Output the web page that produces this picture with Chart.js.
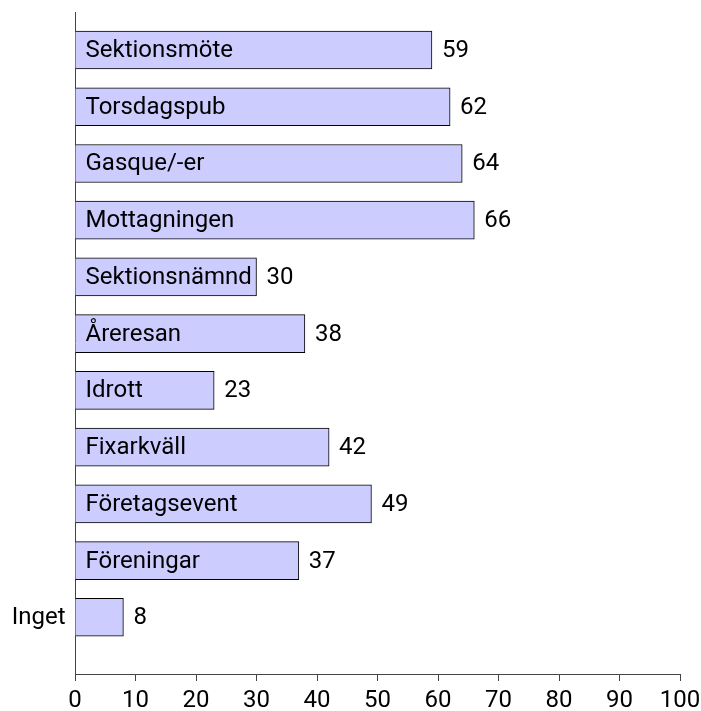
<!DOCTYPE html>
<html lang="sv">
<head>
    <meta charset="UTF-8">
    <title>Aktiviteter</title>
    <script src="https://cdn.jsdelivr.net/npm/chart.js"></script>
    <style>
        * { margin: 0; padding: 0; box-sizing: border-box; }
        body { background: #fff; }
        .wrap { width: 701px; height: 711px; }
    </style>
</head>
<body>
    <div class="wrap">
        <canvas id="chart"></canvas>
    </div>

    <script>
        // Data
        const categories = ['Sektionsmöte', 'Torsdagspub', 'Gasque/-er', 'Mottagningen', 'Sektionsnämnd',
            'Åreresan', 'Idrott', 'Fixarkväll', 'Företagsevent', 'Föreningar', 'Inget'];
        const counts = [59, 62, 64, 66, 30, 38, 23, 42, 49, 37, 8];
        const xTicks = [0, 10, 20, 30, 40, 50, 60, 70, 80, 90, 100];

        const FONT = 'Roboto, "Open Sans", sans-serif';
        const SIZE = 24;

        // name inside the bar (or left of the axis if it really does not fit), value to the right
        const barLabels = {
            id: 'barLabels',
            afterDatasetsDraw(chart) {
                const c = chart.ctx;
                const meta = chart.getDatasetMeta(0);
                c.save();
                c.font = SIZE + 'px ' + FONT;
                c.fillStyle = '#000';
                c.textBaseline = 'middle';
                meta.data.forEach((bar, i) => {
                    const name = categories[i];
                    const w = c.measureText(name).width;
                    if (w + 10 <= bar.x - bar.base + 10) {
                        c.textAlign = 'left';
                        c.fillText(name, bar.base + 10, bar.y + 1);
                    } else {
                        c.textAlign = 'right';
                        c.fillText(name, bar.base - 10, bar.y + 1);
                    }
                    c.textAlign = 'left';
                    c.fillText(String(counts[i]), bar.x + 10, bar.y + 1);
                });
                c.restore();
            }
        };

        new Chart(document.getElementById('chart'), {
            type: 'bar',
            data: {
                datasets: [{
                    data: counts.map((v, i) => ({ x: v, y: i })),
                    backgroundColor: '#ccccff',
                    borderColor: '#000',
                    borderWidth: 1,
                    barThickness: 38
                }]
            },
            options: {
                indexAxis: 'y',
                responsive: true,
                maintainAspectRatio: false,
                animation: false,
                layout: { padding: { top: 12, left: 0, right: 0, bottom: 0 } },
                plugins: {
                    legend: { display: false },
                    tooltip: { enabled: false }
                },
                scales: {
                    x: {
                        type: 'linear',
                        min: 0,
                        max: 100,
                        afterBuildTicks: s => { s.ticks = xTicks.map(v => ({ value: v })); },
                        afterFit: s => { s.height = 37; s.paddingRight = 21; s.paddingLeft = 0; },
                        border: { color: '#444', width: 1 },
                        grid: { drawOnChartArea: false, drawTicks: true, tickLength: 7, color: '#444' },
                        ticks: { color: '#000', padding: 6, font: { family: FONT, size: SIZE } }
                    },
                    y: {
                        type: 'linear',
                        reverse: true,
                        offset: false,
                        min: -0.67,
                        max: 11,
                        afterFit: s => { s.width = 75; },
                        border: { color: '#444', width: 1 },
                        grid: { display: false },
                        ticks: { display: false }
                    }
                }
            },
            plugins: [barLabels]
        });
    </script>
</body>
</html>
